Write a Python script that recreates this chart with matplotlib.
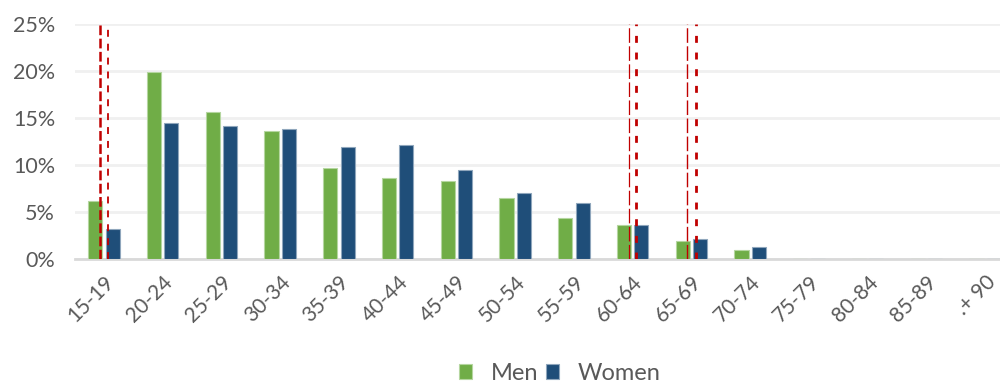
import numpy as np
import matplotlib.pyplot as plt

plt.rcParams["font.family"] = ["Lato", "DejaVu Sans"]
plt.rcParams["lines.scale_dashes"] = False

# age groups and share of each group (%)
age_groups = ["15-19", "20-24", "25-29", "30-34", "35-39", "40-44", "45-49", "50-54",
              "55-59", "60-64", "65-69", "70-74", "75-79", "80-84", "85-89", ".+ 90"]
men = [6.2, 19.9, 15.6, 13.65, 9.7, 8.65, 8.3, 6.5, 4.4, 3.7, 2.0, 1.05, 0, 0, 0, 0]
women = [3.25, 14.5, 14.2, 13.85, 11.95, 12.1, 9.5, 7.1, 6.0, 3.65, 2.2, 1.35, 0, 0, 0, 0]

# dashed reference lines: x in category units, line width, dash pattern (pt)
ref_lines = [
    (-0.07, 1.8, (7, 2.5)),
    (0.07, 1.3, (5, 5)),
    (8.93, 0.9, (10.5, 2.5)),
    (9.06, 2.0, (5, 7)),
    (9.93, 1.0, (10.5, 2.5)),
    (10.07, 2.0, (5, 7)),
]

green = "#70AD47"
blue = "#1F4E79"
grey_text = "#595959"

fig = plt.figure(figsize=(10, 3.85), dpi=100)
ax = fig.add_axes([0.0746, 0.326, 0.94, 0.612])

x = np.arange(len(age_groups))
w = 0.24
ax.bar(x - 0.148, men, w, color=green, edgecolor="#B5D6A0", linewidth=0.8, label="Men", zorder=3)
ax.bar(x + 0.148, women, w, color=blue, edgecolor="#8FA6BC", linewidth=0.8, label="Women", zorder=3)

for xv, lw, dash in ref_lines:
    ax.axvline(xv, color="#C00000", linewidth=lw, linestyle=(0, dash), zorder=4)

ax.set_xlim(-0.5, len(age_groups) - 0.5)
ax.set_ylim(0, 25)
ax.set_yticks(range(0, 26, 5))
ax.set_yticklabels([f"{v}%" for v in range(0, 26, 5)])
ax.set_xticks(x)
ax.set_xticklabels(age_groups, rotation=45, ha="right", rotation_mode="anchor")

ax.yaxis.grid(True, color="#F0F0F0", linewidth=2, zorder=0)
ax.set_axisbelow(True)
for side in ["top", "right", "left"]:
    ax.spines[side].set_visible(False)
ax.spines["bottom"].set_color("#D9D9D9")
ax.spines["bottom"].set_linewidth(2)
ax.tick_params(axis="both", length=0, colors=grey_text)
ax.tick_params(axis="y", pad=14, labelsize=15.5)
ax.tick_params(axis="x", pad=9, labelsize=15)

fig.legend(loc="lower center", bbox_to_anchor=(0.56, -0.052), ncol=2, frameon=False,
           fontsize=17, labelcolor=grey_text, handlelength=0.55, handleheight=0.55,
           handletextpad=0.8, columnspacing=0.3)

fig.savefig("out.png", dpi=100)
